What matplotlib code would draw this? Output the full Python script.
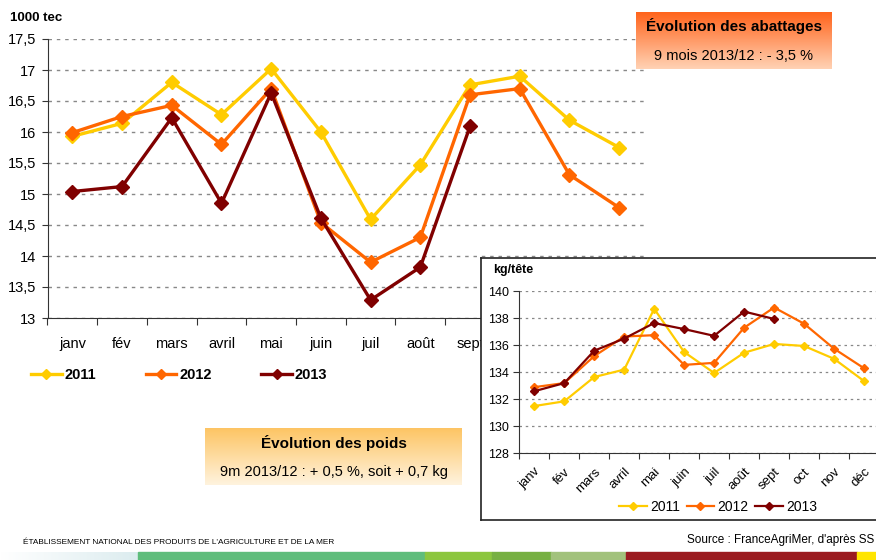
import numpy as np
import matplotlib
matplotlib.use("Agg")
import matplotlib.pyplot as plt
from matplotlib.patches import Rectangle
from matplotlib.colors import LinearSegmentedColormap
from matplotlib.lines import Line2D

plt.rcParams['font.family'] = ['Liberation Sans', 'DejaVu Sans']

# === Données ===
mois = ['janv', 'fév', 'mars', 'avril', 'mai', 'juin', 'juil', 'août', 'sept', 'oct', 'nov', 'déc']
annees = ['2011', '2012', '2013']
couleurs = ['#FFCC00', '#FF6600', '#800000']

# abattages (1000 tec)
abat_2011 = [15.93, 16.14, 16.80, 16.28, 17.02, 16.00, 14.59, 15.47, 16.76, 16.90, 16.19, 15.75]
abat_2012 = [15.99, 16.25, 16.43, 15.80, 16.70, 14.54, 13.90, 14.30, 16.60, 16.70, 15.31, 14.78]
abat_2013 = [15.04, 15.12, 16.23, 14.85, 16.63, 14.61, 13.29, 13.82, 16.09]

# poids (kg/tête)
poids_2011 = [131.5, 131.85, 133.65, 134.2, 138.7, 135.5, 133.95, 135.45, 136.1, 135.95, 135.0, 133.35]
poids_2012 = [132.9, 133.2, 135.2, 136.65, 136.75, 134.55, 134.7, 137.3, 138.8, 137.6, 135.75, 134.3]
poids_2013 = [132.6, 133.2, 135.6, 136.5, 137.65, 137.2, 136.7, 138.5, 137.95]

W, H = 876, 560
fig = plt.figure(figsize=(W / 100, H / 100), dpi=100)


def fx(px):
    return px / W


def fy(py):
    return 1 - py / H


# === Graphique principal ===
ax = fig.add_axes([fx(47.5), fy(318), fx(644 - 47.5), fy(39) - fy(318)])
for vals, c in zip([abat_2011, abat_2012, abat_2013], couleurs):
    ax.plot(range(len(vals)), vals, color=c, lw=2.4, marker='D', ms=7, zorder=3)
ax.set_xlim(-0.5, 11.5)
ax.set_ylim(13, 17.5)
ax.set_yticks(np.arange(13, 17.51, 0.5))
ax.set_yticklabels([f"{v:g}".replace('.', ',') for v in np.arange(13, 17.51, 0.5)], fontsize=10.5)
ax.set_xticks(np.arange(-0.5, 12, 1))
ax.set_xticklabels([])
ax.set_xticks(range(12), minor=True)
ax.set_xticklabels(mois, minor=True, fontsize=10.5)
ax.tick_params(axis='x', which='major', length=5, direction='out', color='#333333')
ax.tick_params(axis='x', which='minor', length=0, pad=14)
ax.tick_params(axis='y', length=4, color='#333333', pad=4)
ax.grid(axis='y', color='#888888', ls=(0, (2.5, 3.5)), lw=1)
for s in ['top', 'right']:
    ax.spines[s].set_visible(False)
for s in ['left', 'bottom']:
    ax.spines[s].set_color('#333333')
fig.text(fx(10), fy(18), '1000 tec', fontsize=9.5, fontweight='bold', va='center')

handles = [Line2D([], [], color=c, lw=2.4, marker='D', ms=5) for c in couleurs]
fig.legend(handles, annees, loc='center left', bbox_to_anchor=(fx(31), fy(375)), ncol=3,
           frameon=False, prop={'weight': 'bold', 'size': 10.5}, handlelength=2.1,
           handletextpad=0.2, columnspacing=3.4, borderpad=0, borderaxespad=0)


# === Encadrés en dégradé ===
def encadre(x0, y0, x1, y1, c_haut, c_bas, titre, sous_titre, ty, sy):
    a = fig.add_axes([fx(x0), fy(y1), fx(x1 - x0), fy(y0) - fy(y1)])
    cmap = LinearSegmentedColormap.from_list('g', [c_haut, c_bas])
    a.imshow(np.linspace(0, 1, 100).reshape(-1, 1), aspect='auto', cmap=cmap,
             extent=[0, 1, 0, 1], origin='upper')
    a.set_axis_off()
    xm = (x0 + x1) / 2
    fig.text(fx(xm), fy(ty), titre, ha='center', va='center', fontsize=11, fontweight='bold')
    fig.text(fx(xm), fy(sy), sous_titre, ha='center', va='center', fontsize=10.5)


encadre(636, 12, 832, 69, '#ff641c', '#ffd2b4', 'Évolution des abattages',
        '9 mois 2013/12 : - 3,5 %', 26, 56)
encadre(205, 428, 462, 485, '#fdc462', '#fff3de', 'Évolution des poids',
        '9m 2013/12 : + 0,5 %, soit + 0,7 kg', 443, 472)

# === Encart poids ===
fond = fig.add_axes([fx(481), fy(520), fx(W + 10 - 481), fy(258) - fy(520)])
fond.set_xticks([])
fond.set_yticks([])
fond.set_facecolor('white')
for s in fond.spines.values():
    s.set_color('#222222')
    s.set_linewidth(1.2)

ax2 = fig.add_axes([fx(519.3), fy(453.3), fx(879 - 519.3), fy(291.3) - fy(453.3)])
ax2.patch.set_alpha(0)
for vals, c in zip([poids_2011, poids_2012, poids_2013], couleurs):
    ax2.plot(range(len(vals)), vals, color=c, lw=1.6, marker='D', ms=4, zorder=3)
ax2.set_xlim(-0.5, 11.5)
ax2.set_ylim(128, 140)
ax2.set_yticks(range(128, 141, 2))
ax2.tick_params(axis='y', labelsize=9, length=4, color='#333333')
ax2.set_xticks(np.arange(-0.5, 12, 1))
ax2.set_xticklabels([])
ax2.set_xticks(range(12), minor=True)
ax2.set_xticklabels(mois, minor=True, fontsize=9.5, rotation=45, ha='right',
                    rotation_mode='anchor')
ax2.tick_params(axis='x', which='major', length=4, color='#333333')
ax2.tick_params(axis='x', which='minor', length=0, pad=9)
ax2.grid(axis='y', color='#888888', ls=(0, (2, 3)), lw=0.9)
for s in ['top', 'right']:
    ax2.spines[s].set_visible(False)
for s in ['left', 'bottom']:
    ax2.spines[s].set_color('#333333')
fig.text(fx(493), fy(270), 'kg/tête', fontsize=9, fontweight='bold', va='center')

handles2 = [Line2D([], [], color=c, lw=1.6, marker='D', ms=4) for c in couleurs]
fig.legend(handles2, annees, loc='center', bbox_to_anchor=(fx(718), fy(507)), ncol=3,
           frameon=False, fontsize=10, handlelength=2.0, handletextpad=0.2,
           columnspacing=0.5, borderpad=0, borderaxespad=0)

# === Pied de page ===
fig.text(fx(874), fy(540), "Source : FranceAgriMer, d'après SS", ha='right', va='center', fontsize=8.5)
fig.text(fx(23), fy(542), "ÉTABLISSEMENT NATIONAL DES PRODUITS DE L'AGRICULTURE ET DE LA MER",
         ha='left', va='center', fontsize=5.95)

bande = fig.add_axes([0, 0, fx(138), fy(551.5)])
bande.imshow(np.linspace(0, 1, 100).reshape(1, -1), aspect='auto',
             cmap=LinearSegmentedColormap.from_list('b', ['#ffffff', '#dcecef']), extent=[0, 1, 0, 1])
bande.set_axis_off()
segments = [(138, 425, '#5fbd7c'), (425, 492, '#8cc63f'), (492, 551, '#77b043'),
            (551, 626, '#a2c27c'), (626, 857, '#9b1b20'), (857, 876, '#ffe500')]
for x0, x1, c in segments:
    fig.patches.append(Rectangle((fx(x0), 0), fx(x1 - x0), fy(551.5), color=c,
                                 transform=fig.transFigure, figure=fig))

fig.savefig('out.png', dpi=100)
